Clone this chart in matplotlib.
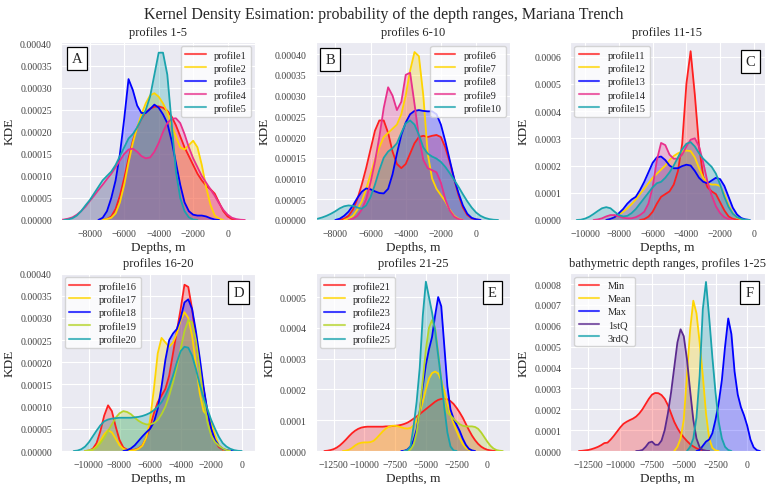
import numpy as np
import matplotlib
matplotlib.use("Agg")
import matplotlib.pyplot as plt
import seaborn as sns
from matplotlib.lines import Line2D
from matplotlib.ticker import MultipleLocator, FormatStrFormatter, FixedLocator

# ------------------------------------------------------------------
# Density readings (units of 1e-5 per metre), sampled every STEP m,
# starting at the given depth for every curve.
# ------------------------------------------------------------------
STEP = 250
SCALE = 1e-5

# ---- A: profiles 1-5
A_labels = ["profile1", "profile2", "profile3", "profile4", "profile5"]
A_starts = [-7250, -7250, -7500, -9750, -9500]
A_p1 = [0, 0.2, 0.8, 2.5, 5.5, 9.5, 14, 18, 21, 23, 24.5, 25.3, 25.7, 25.8, 25.5, 24.8, 23.5, 21.5, 19, 16.5,
        14.5, 12.5, 10.5, 9, 7.8, 7, 6, 4, 2, 0.8, 0.2, 0]
A_p2 = [0, 0.2, 0.5, 1.5, 4, 8, 13, 17.5, 21, 24, 26.5, 28.3, 28.8, 28, 26.5, 24.5, 21.5, 19, 16.5, 16,
        17, 18, 16.5, 12.5, 7.5, 3.5, 1, 0.3, 0]
A_p3 = [0, 0.5, 2, 5, 9, 15, 23, 32, 29.5, 26, 24.3, 24.3, 25.2, 26.2, 25.5, 24, 22, 18, 13, 8,
        4, 2, 1.2, 1, 1, 0.8, 0.4, 0.1, 0]
A_p4 = [0, 0.1, 0.3, 0.6, 1.2, 2, 3, 4.3, 5.5, 6.8, 8, 9.3, 10.5, 12, 13.5, 15, 16, 16.2, 15.5, 14.5,
        14, 14.2, 15.5, 17.5, 20, 22, 23, 23.1, 22, 19.5, 16.5, 14, 12, 10, 8.5, 7, 5.5, 3.8, 2.3, 1.2,
        0.5, 0.2, 0.05, 0]
A_p5 = [0, 0.1, 0.4, 1, 2, 3.3, 4.5, 6, 7.5, 9, 10, 11, 12.5, 14.5, 16.5, 18.5, 19.5, 21, 23, 25,
        28, 33, 38, 38, 33, 22, 11, 5, 2, 0.6, 0.1, 0]

# ---- B: profiles 6-10
B_labels = ["profile6", "profile7", "profile8", "profile9", "profile10"]
B_starts = [-7750, -7500, -8000, -7250, -9500]
B_p6 = [0, 0.3, 1, 2.5, 5, 8.5, 12.5, 17, 21.5, 24, 24, 21, 16.5, 13.5, 12.5, 13.5, 16, 18.5, 20, 20.3,
        20, 20.3, 20.5, 20, 17.5, 14, 10, 6, 3, 1.2, 0.4, 0.1, 0]
B_p7 = [0, 0.3, 1, 2.5, 4.5, 7.5, 11, 14.5, 17.5, 20, 21, 22, 23, 25.5, 30, 36, 40.5, 39.5, 30, 16,
        10, 7.5, 6, 4.5, 2.5, 1, 0.3, 0]
B_p8 = [0, 0.3, 1, 2, 3.5, 5.3, 6.8, 7.6, 7.4, 6.9, 6.5, 6.4, 7.5, 11, 16, 20.5, 23.5, 25.5, 26.3, 26.5,
        26.3, 26.2, 26.2, 25.5, 23, 19, 14.5, 10, 6.5, 3.5, 1.5, 0.5, 0.15, 0]
B_p9 = [0, 0.3, 1, 2.5, 5, 9, 14, 20, 27, 32, 30, 26.5, 28.5, 35, 35.5, 28, 20, 14.5, 12.5, 12,
        11.5, 9, 5, 2.3, 0.8, 0.2, 0]
B_p10 = [0, 0.1, 0.3, 0.6, 1, 1.5, 2.1, 2.8, 3.3, 3.5, 3.4, 3, 2.7, 3.5, 5.5, 8.5, 12, 15, 16.5, 17.3,
         18.5, 21, 23.3, 24, 23, 20.5, 17.5, 16, 15.3, 14.8, 14, 12.8, 11.3, 9.7, 8, 6.2, 4.5, 3, 1.8, 1,
         0.5, 0.2, 0.05, 0]

# ---- C: profiles 11-15
C_labels = ["profile11", "profile12", "profile13", "profile14", "profile15"]
C_starts = [-6750, -8750, -8750, -9500, -10500]
C_p11 = [0, 0.3, 1.2, 3, 6, 8.5, 9.5, 10.5, 13, 18, 28, 50, 62, 46, 27, 16, 12, 10.5, 9.5, 6.5,
         3.5, 1.3, 0.4, 0.1, 0]
C_p12 = [0, 0.4, 1, 2, 3, 4.3, 5.8, 7.5, 9.5, 11.5, 13.5, 15.5, 17, 18.5, 20, 22, 23.5, 24.5, 25.2, 25.5,
         25.3, 23, 19, 15.5, 13.5, 13, 13, 12.5, 9.5, 5.5, 2.5, 0.8, 0.2, 0]
C_p13 = [0, 0.4, 1, 2.5, 4, 6, 7.5, 8.5, 11, 14, 17.5, 21, 23, 23.3, 22, 20, 19, 19, 19.8, 20.3,
         20, 18, 15.5, 14, 13.5, 14.5, 15.5, 15, 12.5, 8.5, 4.5, 2, 0.7, 0.2, 0]
C_p14 = [0, 0.2, 0.6, 1.3, 1.8, 1.8, 1.3, 0.8, 0.6, 0.6, 1, 1.8, 3, 6, 12, 22, 28.3, 27.5, 24, 22.5,
         22.5, 24, 27, 29.5, 30, 27, 21, 14, 9, 5, 2.5, 1, 0.3, 0]
C_p15 = [0, 0.1, 0.5, 1.2, 2.2, 3.3, 4.3, 4.7, 4.3, 3, 1.8, 1.3, 1.5, 2.5, 4, 6, 8, 10, 12, 13.5,
         14, 15.5, 17.5, 20, 23, 26, 28, 28.6, 27, 24.5, 22.5, 21, 19.5, 17, 13, 8.5, 4.8, 2.3, 1, 0.4,
         0.1, 0]

# ---- D: profiles 16-20
D_labels = ["profile16", "profile17", "profile18", "profile19", "profile20"]
D_starts = [-10250, -10250, -7750, -10250, -11000]
D_p16 = [0, 0.1, 0.5, 1.8, 4.5, 8, 10.3, 9, 5.5, 2.5, 0.8, 0.3, 0.2, 0.3, 0.6, 1.3, 3, 5.5, 8.5, 11,
         12.5, 14, 17, 22, 27, 32, 37.5, 37, 32, 25, 19, 14, 9, 5, 2.3, 0.9, 0.3, 0.1, 0]
D_p17 = [0, 0.1, 0.3, 1, 2.3, 3.8, 4.7, 4.2, 2.8, 1.3, 0.5, 0.2, 0.1, 0.2, 0.5, 1.2, 3, 7, 14, 22,
         25.5, 24.5, 23.5, 24.5, 26.5, 29.5, 31.3, 30, 26, 19.5, 13, 9, 8, 6.5, 3.5, 1.3, 0.4, 0.1, 0]
D_p18 = [0, 0.2, 0.6, 1.3, 2.3, 3.3, 4.2, 5, 6.5, 9.5, 14.5, 20.5, 25, 26.5, 27.5, 30, 33.5, 34.2, 32, 27,
         21, 14.5, 9, 5, 2.5, 1.2, 0.5, 0.2, 0.05, 0]
D_p19 = [0, 0.1, 0.3, 0.8, 1.8, 3, 4.5, 6, 7.5, 8.5, 9, 8.8, 8.3, 7.5, 6.8, 6.3, 6, 6, 6.3, 7,
         8.3, 10, 12.5, 15.5, 19, 23, 27, 29.5, 29, 25, 18.5, 11.5, 6.5, 3.5, 2, 1.2, 0.6, 0.2, 0]
D_p20 = [0, 0.1, 0.4, 1, 2, 3.3, 4.6, 5.8, 6.7, 7.1, 7.3, 7.4, 7.5, 7.5, 7.5, 7.5, 7.6, 7.7, 7.9, 8.2,
         8.6, 9.2, 10, 11, 12.5, 14.5, 17, 20, 22.5, 23.5, 23.3, 21.5, 18.5, 15, 12, 9.5, 7, 5, 3.2, 1.8,
         1, 0.5, 0.2, 0.05, 0]

# ---- E: profiles 21-25
E_labels = ["profile21", "profile22", "profile23", "profile24", "profile25"]
E_starts = [-13250, -11750, -7000, -6750, -6750]
E_p21 = [0, 0.1, 0.3, 0.6, 1.1, 1.8, 2.7, 3.7, 4.8, 5.8, 6.6, 7.2, 7.6, 7.8, 7.9, 7.9, 7.9, 7.9, 7.9, 7.9,
         8, 8, 8.1, 8.2, 8.3, 8.5, 8.8, 9.2, 9.8, 10.5, 11.2, 12, 12.8, 13.6, 14.4, 15.2, 16, 16.6, 16.9, 17,
         16.8, 16.2, 15.3, 14, 12.5, 10.8, 8.8, 6.8, 5, 3.5, 2.3, 1.4, 0.8, 0.4, 0.2, 0.05, 0]
E_p22 = [0, 0.1, 0.4, 1, 1.8, 2.4, 2.7, 2.8, 2.8, 2.9, 3.3, 4.2, 5.3, 6.4, 7.3, 7.9, 8.2, 8.2, 8, 7.7,
         7.4, 7.3, 7.5, 8.3, 10, 12.5, 16, 20, 23.5, 25.3, 25.8, 25.2, 23, 19.5, 15.5, 12, 9, 6.5, 4.2, 2.3,
         1, 0.4, 0.1, 0]
E_p23 = [0, 0.1, 0.5, 1.5, 3.5, 7, 13, 21, 28, 33, 37, 44, 50, 47, 34, 21, 13.5, 10.5, 8.5, 6.5,
         4, 2, 0.7, 0.2, 0]
E_p24 = [0, 0.1, 0.5, 2, 6, 13, 23, 33, 40, 42.5, 40, 32, 23, 16, 12.5, 11.5, 10.5, 9.5, 8.7, 8.2,
         8, 8, 8, 7.8, 7.2, 6, 4.5, 3, 1.7, 0.8, 0.3, 0.1, 0]
E_p25 = [0, 0.3, 1.5, 8, 16, 27, 44, 55, 50, 45, 39, 31, 23, 14, 6, 1.5, 0.2, 0]

# ---- F: bathymetric depth ranges, profiles 1-25
F_labels = ["Min", "Mean", "Max", "1stQ", "3rdQ"]
F_starts = [-13250, -5750, -4000, -8750, -4750]
F_min = [0, 0.1, 0.3, 0.5, 0.9, 1.4, 2, 2.8, 3.8, 4, 5.5, 7.3, 9.3, 11.3, 13, 14, 14.8, 15.5, 16.5, 18,
         20, 22.5, 25, 27, 27.8, 27.7, 26.8, 25, 22, 18, 14, 11, 8.5, 6.5, 4.8, 3.3, 2.2, 1.3, 0.7, 0.3,
         0.1, 0]
F_mean = [0, 2, 6, 15, 36, 58, 72, 66, 52, 36, 18, 6, 1.5, 0.3, 0]
F_max = [0, 0.5, 2.5, 4.5, 5.5, 8.5, 15, 23, 34, 50, 63.5, 56, 38, 27, 21, 17, 12, 5.5, 1.8, 0.4, 0]
F_q1 = [0, 0.1, 0.5, 2, 4, 4.5, 3, 3, 5, 10, 18, 28, 40, 52, 58.3, 55, 44, 29, 15, 6,
        1.8, 0.4, 0.1, 0]
F_q3 = [0, 2, 6, 16, 36, 68, 81, 64, 45, 28, 14, 6, 2, 0.5, 0]

# ------------------------------------------------------------------
COLORS_PROFILES = ["#ff1f1f", "#ffd500", "#0000ff", "#e8308c", "#1aa3ad"]
COLORS_D = ["#ff1f1f", "#ffd500", "#0000ff", "#b5d42a", "#1aa3ad"]
COLORS_F = ["#ff1f1f", "#ffd500", "#0000ff", "#5b2a8f", "#1aa3ad"]

panels = [
    dict(title="profiles 1-5", letter="A", labels=A_labels, colors=COLORS_PROFILES, starts=A_starts,
         values=[A_p1, A_p2, A_p3, A_p4, A_p5], xlim=(-9670, 1610), ylim=(0, 0.000405),
         ystep=0.00005, yfmt="%.5f", xticks=[-8000, -6000, -4000, -2000, 0],
         legend_loc="upper right", letter_pos=(0.082, 0.904)),
    dict(title="profiles 6-10", letter="B", labels=B_labels, colors=COLORS_PROFILES, starts=B_starts,
         values=[B_p6, B_p7, B_p8, B_p9, B_p10], xlim=(-9120, 1930), ylim=(0, 0.000430),
         ystep=0.00005, yfmt="%.5f", xticks=[-8000, -6000, -4000, -2000, 0, 2000],
         legend_loc="upper right", letter_pos=(0.074, 0.90)),
    dict(title="profiles 11-15", letter="C", labels=C_labels, colors=COLORS_PROFILES, starts=C_starts,
         values=[C_p11, C_p12, C_p13, C_p14, C_p15], xlim=(-10880, 640), ylim=(0, 0.000655),
         ystep=0.0001, yfmt="%.4f", xticks=[-10000, -8000, -6000, -4000, -2000, 0],
         legend_loc="upper left", letter_pos=(0.927, 0.89)),
    dict(title="profiles 16-20", letter="D", labels=D_labels, colors=COLORS_D, starts=D_starts,
         values=[D_p16, D_p17, D_p18, D_p19, D_p20], xlim=(-11830, 890), ylim=(0, 0.000402),
         ystep=0.00005, yfmt="%.5f", xticks=[-10000, -8000, -6000, -4000, -2000, 0],
         legend_loc="upper left", letter_pos=(0.913, 0.888)),
    dict(title="profiles 21-25", letter="E", labels=E_labels, colors=COLORS_D, starts=E_starts,
         values=[E_p21, E_p22, E_p23, E_p24, E_p25], xlim=(-13960, 1840), ylim=(0, 0.000579),
         ystep=0.0001, yfmt="%.4f", xticks=[-12500, -10000, -7500, -5000, -2500, 0],
         legend_loc="upper left", letter_pos=(0.908, 0.888)),
    dict(title="bathymetric depth ranges, profiles 1-25", letter="F", labels=F_labels, colors=COLORS_F,
         starts=F_starts, values=[F_min, F_mean, F_max, F_q1, F_q3], xlim=(-13930, 1370),
         ylim=(0, 0.000854), ystep=0.0001, yfmt="%.4f",
         xticks=[-12500, -10000, -7500, -5000, -2500, 0],
         legend_loc="upper left", letter_pos=(0.922, 0.888)),
]

sns.set_style("darkgrid")
plt.rcParams["font.family"] = ["Liberation Serif", "DejaVu Serif"]
plt.rcParams["axes.unicode_minus"] = True

fig, axes = plt.subplots(2, 3, figsize=(7.67, 4.85), dpi=100)
fig.subplots_adjust(left=0.0795, right=0.997, top=0.912, bottom=0.068, wspace=0.31, hspace=0.296)

for ax, p in zip(axes.flat, panels):
    handles = []
    for lab, col, st, vals in zip(p["labels"], p["colors"], p["starts"], p["values"]):
        y = np.asarray(vals, dtype=float) * SCALE
        x = st + STEP * np.arange(len(y))
        ax.fill_between(x, 0, y, color=col, alpha=0.28, linewidth=0)
        ax.plot(x, y, color=col, lw=1.3)
        handles.append(Line2D([0], [0], color=col, lw=1.5, alpha=0.75, label=lab))
    ax.set_xlim(*p["xlim"])
    ax.set_ylim(*p["ylim"])
    ax.xaxis.set_major_locator(FixedLocator(p["xticks"]))
    ax.yaxis.set_major_locator(MultipleLocator(p["ystep"]))
    ax.yaxis.set_major_formatter(FormatStrFormatter(p["yfmt"]))
    ax.tick_params(labelsize=7, pad=3, colors="0.25")
    ax.set_title(p["title"], fontsize=9, pad=5)
    ax.set_xlabel("Depths, m", fontsize=9.5, labelpad=2)
    ax.set_ylabel("KDE", fontsize=9.5, labelpad=3)
    leg = ax.legend(handles=handles, loc=p["legend_loc"], fontsize=7.5, frameon=True,
                    labelspacing=0.35, handlelength=2.0, borderaxespad=0.4)
    leg.get_frame().set_facecolor("white")
    leg.get_frame().set_alpha(0.8)
    leg.get_frame().set_edgecolor("0.8")
    lx, ly = p["letter_pos"]
    ax.text(lx, ly, p["letter"], transform=ax.transAxes, fontsize=10.5, ha="center", va="center",
            bbox=dict(boxstyle="square,pad=0.35", fc="white", ec="black", lw=0.9), zorder=10)

fig.suptitle("Kernel Density Esimation: probability of the depth ranges, Mariana Trench",
             fontsize=11.5, y=0.985)

fig.savefig("out.png", dpi=100)
